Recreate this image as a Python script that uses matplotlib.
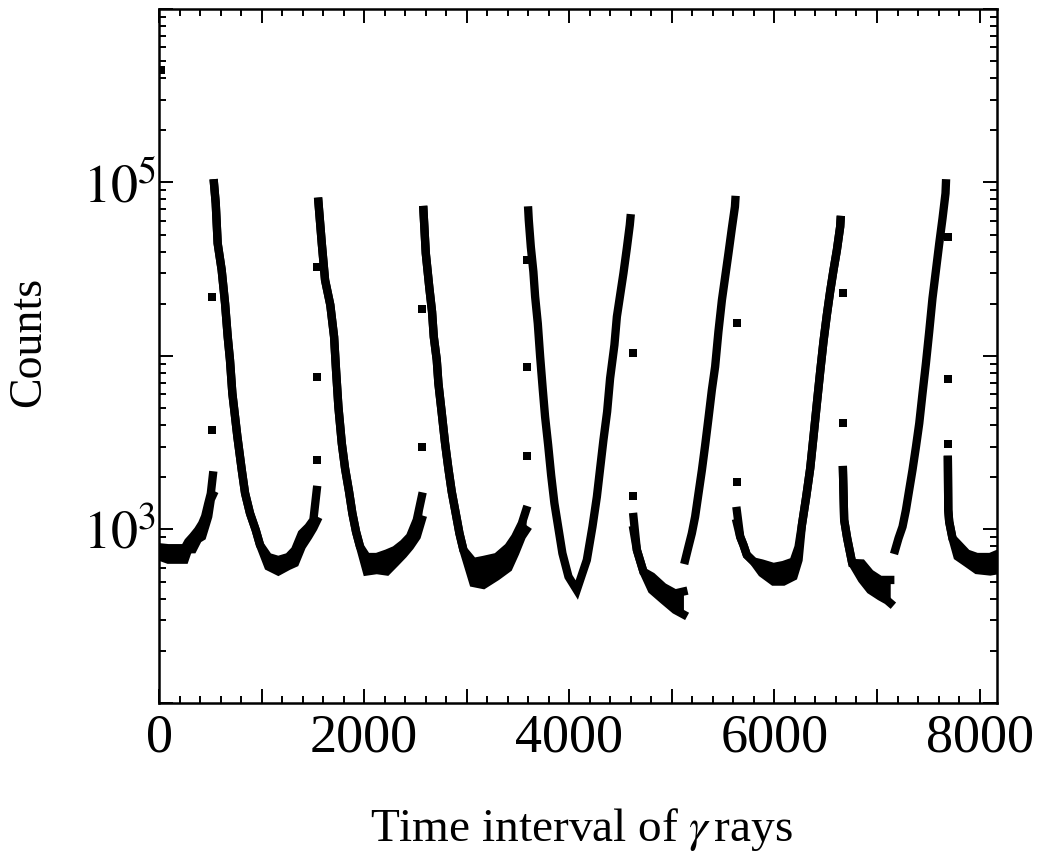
import math
import matplotlib
matplotlib.use("Agg")
import matplotlib.pyplot as plt
from matplotlib.ticker import MultipleLocator, LogLocator, FuncFormatter, NullFormatter

plt.rcParams['font.family'] = ['Liberation Serif', 'DejaVu Serif']
plt.rcParams['mathtext.fontset'] = 'stix'

# ---------------- data (channel, counts) ----------------
# continuous segments: channel, upper edge, lower edge of the band of points
ch_a = [0, 90, 250, 285, 330, 380, 420, 450, 480, 505, 525]
hi_a = [790, 780, 780, 850, 910, 990, 1080, 1190, 1410, 1610, 2050]
lo_a = [700, 670, 670, 770, 770, 880, 910, 1040, 1190, 1490, 1580]

ch_b = [536, 553, 572, 611, 644, 670, 692, 715, 764, 807, 839, 887, 943, 985,
        1066, 1163, 1261, 1326, 1392, 1456, 1505, 1538]
hi_b = [98900, 75900, 44600, 31300, 20100, 12900, 9480, 6100, 3430, 2200, 1620,
        1240, 993, 814, 694, 667, 694, 762, 948, 1034, 1135, 1690]
lo_b = [98900, 75900, 44600, 31300, 20100, 12900, 9480, 6100, 3430, 2200, 1620,
        1240, 993, 814, 612, 573, 616, 641, 798, 912, 1020, 1120]

ch_c = [1554, 1587, 1619, 1670, 1707, 1726, 1749, 1782, 1814, 1853, 1885, 1921,
        1960, 2026, 2123, 2221, 2302, 2382, 2447, 2513, 2562]
hi_c = [77500, 44600, 27400, 19700, 12900, 8300, 5100, 3140, 2250, 1650, 1240,
        971, 796, 694, 694, 727, 762, 830, 911, 1135, 1550]
lo_c = [77500, 44600, 27400, 19700, 12900, 8300, 5100, 3140, 2250, 1650, 1240,
        971, 796, 573, 584, 573, 641, 718, 798, 911, 1140]

ch_d = [2578, 2601, 2636, 2662, 2679, 2708, 2724, 2757, 2789, 2821, 2854, 2893,
        2929, 2968, 3065, 3163, 3293, 3406, 3472, 3537, 3579]
hi_d = [69400, 39100, 24600, 18000, 12900, 9480, 6960, 4670, 3140, 2250, 1650,
        1240, 951, 762, 650, 667, 694, 793, 905, 1083, 1295]
lo_d = [69400, 39100, 24600, 18000, 12900, 9480, 6960, 4670, 3140, 2250, 1650,
        1240, 951, 762, 492, 479, 536, 600, 732, 911, 993]

ch_e = [3600, 3605, 3625, 3650, 3667, 3693, 3716, 3742, 3764, 3794, 3823, 3855,
        3894, 3933, 3992, 4073, 4171, 4226, 4269, 4301, 4333, 4369, 4398, 4440,
        4464, 4496, 4528, 4561, 4590, 4596]
y_e = [69000, 60800, 42600, 30600, 22000, 15400, 9910, 6370, 4470, 3070, 2060,
       1416, 1016, 729, 535, 448, 667, 1038, 1545, 2253, 3280, 4775, 7440, 11570,
       16850, 22470, 29970, 41760, 56900, 62200]

ch_f = [4626, 4659, 4723, 4805, 4918, 5032, 5113]
hi_f = [1180, 762, 571, 536, 466, 428, 439]
lo_f = [993, 762, 571, 448, 392, 344, 324]

ch_g = [5130, 5162, 5195, 5227, 5260, 5293, 5325, 5357, 5390, 5422, 5454, 5488,
        5520, 5552, 5585, 5615, 5619]
y_g = [667, 796, 951, 1186, 1617, 2200, 3070, 4375, 6370, 8680, 13800, 21000,
       28650, 39100, 54450, 72550, 79300]

ch_h = [5634, 5666, 5698, 5731, 5796, 5878, 5991, 6088, 6186, 6235, 6268, 6310,
        6349, 6381, 6414, 6446, 6478, 6511, 6543, 6576, 6609, 6641, 6645]
hi_h = [1279, 909, 814, 713, 654, 637, 608, 624, 654, 793, 1062, 1545, 2253,
        3430, 5340, 8120, 12090, 17230, 23480, 31300, 40800, 55600, 60800]
lo_h = [1090, 909, 814, 713, 654, 561, 501, 501, 536, 667, 1062, 1545, 2253,
        3430, 5340, 8120, 12090, 17230, 23480, 31300, 40800, 55600, 60800]

ch_i = [6668, 6680, 6709, 6758, 6853, 6934, 7031, 7100, 7129]
hi_i = [2200, 1135, 893, 641, 637, 558, 512, 512, 512]
lo_i = [2200, 1135, 893, 641, 515, 448, 411, 390, 377]

ch_j = [7177, 7210, 7249, 7282, 7314, 7346, 7380, 7412, 7444, 7477, 7509, 7541,
        7575, 7607, 7639, 7668, 7672]
y_j = [762, 890, 1038, 1295, 1690, 2200, 3000, 4094, 6100, 9070, 13800, 21500,
       31300, 44600, 62200, 86600, 98900]

ch_k = [7691, 7695, 7704, 7736, 7785, 7877, 7974, 8104, 8185]
hi_k = [2520, 1295, 1109, 890, 830, 727, 694, 694, 727]
lo_k = [2520, 1295, 1109, 890, 699, 641, 584, 573, 584]

# isolated points
iso_ch = [15, 514, 514, 1538, 1538, 1538, 2562, 2562, 3586, 3586, 3586, 4625, 4625,
          5640, 5640, 6668, 6668, 7691, 7691, 7691]
iso_y = [448000, 21800, 3740, 32700, 7600, 2520, 18700, 3000, 35800, 8600, 2650,
         10360, 1560, 15400, 1886, 23170, 4094, 48700, 7340, 3110]

# axis tick labels
x_labels = {0: "0", 2000: "2000", 4000: "4000", 6000: "6000", 8000: "8000"}
y_labels = {3: r"$10^3$", 5: r"$10^5$"}

# ---------------- figure ----------------
fig = plt.figure(figsize=(10.45, 8.58), dpi=100)
ax = fig.add_axes([159 / 1045, 155 / 858, 838 / 1045, 694 / 858])

LW = 6.0
def band(ch, hi, lo):
    ax.fill_between(ch, lo, hi, color='k', lw=0)
    ax.plot(ch, hi, '-', color='k', lw=LW, solid_capstyle='projecting', solid_joinstyle='miter')
    ax.plot(ch, lo, '-', color='k', lw=LW, solid_capstyle='projecting', solid_joinstyle='miter')

def line(ch, y):
    ax.plot(ch, y, '-', color='k', lw=LW, solid_capstyle='projecting', solid_joinstyle='miter')

band(ch_a, hi_a, lo_a)
band(ch_b, hi_b, lo_b)
band(ch_c, hi_c, lo_c)
band(ch_d, hi_d, lo_d)
line(ch_e, y_e)
band(ch_f, hi_f, lo_f)
line(ch_g, y_g)
band(ch_h, hi_h, lo_h)
band(ch_i, hi_i, lo_i)
line(ch_j, y_j)
band(ch_k, hi_k, lo_k)
ax.plot(iso_ch, iso_y, 's', color='k', ms=5.6, mew=0)

ax.set_yscale('log')
ax.set_xlim(0, 8170)
ax.set_ylim(100, 1e6)

ax.xaxis.set_major_locator(MultipleLocator(1000))
ax.xaxis.set_minor_locator(MultipleLocator(200))
ax.xaxis.set_major_formatter(FuncFormatter(lambda v, p: x_labels.get(int(round(v)), "")))
ax.yaxis.set_major_locator(LogLocator(base=10, numticks=20))
ax.yaxis.set_minor_locator(LogLocator(base=10, subs=range(2, 10), numticks=100))
ax.yaxis.set_major_formatter(FuncFormatter(
    lambda v, p: y_labels.get(int(round(math.log10(v))), "") if v > 0 else ""))
ax.yaxis.set_minor_formatter(NullFormatter())

for s in ax.spines.values():
    s.set_linewidth(1.8)
ax.tick_params(which='both', direction='in', top=True, right=True, width=1.4)
ax.tick_params(which='major', length=10)
ax.tick_params(which='minor', length=5)
ax.tick_params(axis='x', which='major', labelsize=39, pad=7)
ax.tick_params(axis='y', which='major', labelsize=39, pad=2)

ax.set_xlabel(r"Time interval of $\gamma\,$rays", fontsize=34)
ax.set_ylabel("Counts", fontsize=33)
ax.xaxis.set_label_coords((581 - 159) / 838, (703 - 806) / 694)
ax.yaxis.set_label_coords((50 - 159) / 838, (703 - 342) / 694)

fig.savefig("out.png", dpi=100)
